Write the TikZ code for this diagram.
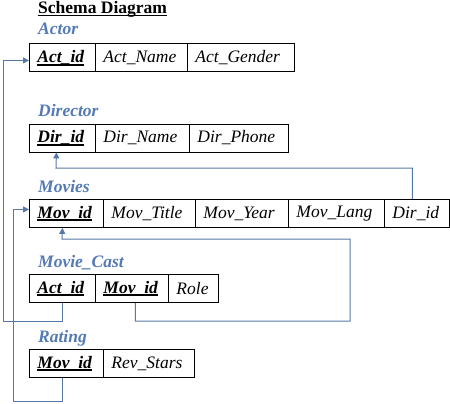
\documentclass[tikz,border=0pt]{standalone}
\usepackage{fontspec}
\setmainfont{Liberation Serif}
\usetikzlibrary{arrows.meta}
\definecolor{lbl}{RGB}{84,122,180}
\definecolor{ln}{RGB}{88,120,165}
\newcommand\keyf[1]{\setbox0\hbox{\bfseries\itshape #1}\rlap{\rule[-3pt]{\wd0}{1.6pt}}\box0}
\newcommand\titul[1]{\setbox0\hbox{\bfseries #1}\rlap{\rule[-2.2pt]{\wd0}{1pt}}\box0}
\begin{document}
\begin{tikzpicture}[x=1pt,y=-1pt,
  every node/.style={font=\fontsize{17.5}{20}\selectfont},
  cell/.style={draw=black, line width=0.9pt, anchor=north west, minimum height=28pt, inner xsep=8pt, inner ysep=0pt, align=left, font=\fontsize{17.5}{20}\selectfont\itshape},
  tlabel/.style={anchor=base west, inner sep=0pt, text=lbl, font=\fontsize{17.5}{20}\selectfont\bfseries\itshape},
  conn/.style={draw=ln, line width=1pt},
  arr/.style={conn, -{Triangle[length=6pt,width=6pt]}}]
\useasboundingbox (0,0) rectangle (450,404);
\node[anchor=base west, inner sep=0pt, font=\fontsize{17.5}{20}\selectfont] (title) at (38,14) {\titul{Schema Diagram}};
% Actor
\node[tlabel] (lA) at (38,35) {Actor};
\node[cell, text width=50pt] (a1) at (29,43.5) {\keyf{Act\_id}};
\node[cell, text width=76pt] (a2) at (95,43.5) {Act\_Name};
\node[cell, text width=91pt] (a3) at (187,43.5) {Act\_Gender};
% Director
\node[tlabel] (lD) at (38,116) {Director};
\node[cell, text width=50pt] (d1) at (29,123.5) {\keyf{Dir\_id}};
\node[cell, text width=78pt] (d2) at (95,123.5) {Dir\_Name};
\node[cell, text width=83pt] (d3) at (189,123.5) {Dir\_Phone};
% Movies
\node[tlabel] (lM) at (38,192) {Movies};
\node[cell, text width=58pt] (m1) at (29,199) {\keyf{Mov\_id}};
\node[cell, text width=76pt] (m2) at (103,199) {Mov\_Title};
\node[cell, text width=77pt] (m3) at (195,199) {Mov\_Year};
\node[cell, text width=80pt] (m4) at (288,199) {Mov\_Lang};
\node[cell, text width=49pt] (m5) at (384,199) {Dir\_id};
% Movie_Cast
\node[tlabel] (lC) at (38,267) {Movie\_Cast};
\node[cell, text width=50pt] (c1) at (29,274) {\keyf{Act\_id}};
\node[cell, text width=57pt] (c2) at (95,274) {\keyf{Mov\_id}};
\node[cell, text width=34pt] (c3) at (168,274) {Role};
% Rating
\node[tlabel] (lR) at (38,342) {Rating};
\node[cell, text width=58pt] (r1) at (29,349) {\keyf{Mov\_id}};
\node[cell, text width=75pt] (r2) at (103,349) {Rev\_Stars};
% connector corners
\coordinate (pA) at (3,321);
\coordinate (pD) at (56,168);
\coordinate (pC1) at (350,321);
\coordinate (pC2) at (62,239);
\coordinate (pR) at (13,401);
% connectors
\draw[arr] (c1.south) |- (pA) |- ([yshift=-2.5pt]a1.west);
\draw[arr] ([xshift=-4.5pt]m5.north) |- (pD) -- ([xshift=-6pt]d1.south);
\draw[arr] ([xshift=3.5pt]c2.south) |- (pC1) |- (pC2) -- ([xshift=-4pt]m1.south);
\draw[arr] ([xshift=-4pt]r1.south) |- (pR) |- ([yshift=4pt]m1.west);
\end{tikzpicture}
\end{document}
